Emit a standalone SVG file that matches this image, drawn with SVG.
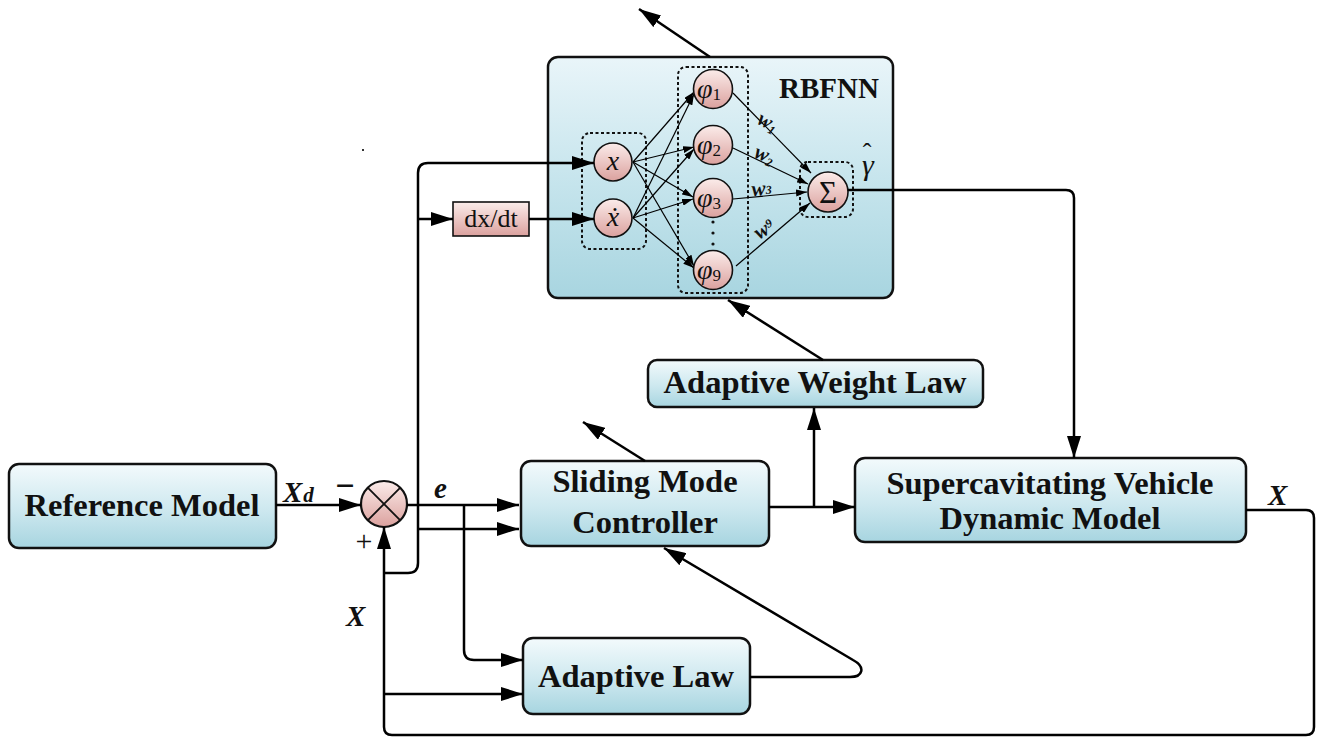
<svg xmlns="http://www.w3.org/2000/svg" width="1321" height="738" viewBox="0 0 1321 738">
  <defs>
    <linearGradient id="boxFill" x1="0" y1="0" x2="0" y2="1">
      <stop offset="0" stop-color="#f3fafc"/>
      <stop offset="0.55" stop-color="#cde8ef"/>
      <stop offset="1" stop-color="#a7d5e0"/>
    </linearGradient>
    <linearGradient id="nnFill" x1="0" y1="0" x2="0" y2="1">
      <stop offset="0" stop-color="#e9f5f9"/>
      <stop offset="0.5" stop-color="#c7e5ed"/>
      <stop offset="1" stop-color="#a8d5e0"/>
    </linearGradient>
    <linearGradient id="pinkFill" x1="0" y1="0" x2="0" y2="1">
      <stop offset="0" stop-color="#fbecea"/>
      <stop offset="1" stop-color="#dba19e"/>
    </linearGradient>
    <marker id="arrow" markerUnits="userSpaceOnUse" markerWidth="22" markerHeight="14" refX="22" refY="7" orient="auto">
      <path d="M0,0 L22,7 L0,14 z" fill="#000"/>
    </marker>
    <marker id="tip" markerUnits="userSpaceOnUse" markerWidth="11" markerHeight="7" refX="11" refY="3.5" orient="auto">
      <path d="M0,0 L11,3.5 L0,7 z" fill="#000"/>
    </marker>
  </defs>
  <style>
    .box { fill: url(#boxFill); stroke: #111; stroke-width: 2.5; }
    .nn { fill: url(#nnFill); stroke: #111; stroke-width: 2.5; }
    .neuron { fill: url(#pinkFill); stroke: #111; stroke-width: 1.6; }
    .group { fill: none; stroke: #111; stroke-width: 2; stroke-dasharray: 3 2.5; }
    .label { font-family: "Liberation Serif", "Times New Roman", serif; font-weight: bold; font-size: 32.5px; fill: #111; text-anchor: middle; }
    .sig { font-family: "Liberation Serif", "Times New Roman", serif; font-weight: bold; font-style: italic; font-size: 29px; fill: #111; }
    .sym { font-family: "Liberation Serif", "Times New Roman", serif; font-style: italic; font-size: 28px; fill: #111; text-anchor: middle; }
    .sub { font-family: "Liberation Serif", "Times New Roman", serif; font-style: normal; font-size: 17px; fill: #111; }
    .wt { font-family: "Liberation Serif", "Times New Roman", serif; font-style: italic; font-weight: bold; font-size: 21px; fill: #111; }
    .wire { fill: none; stroke: #000; stroke-width: 2.5; stroke-linejoin: round; }
    .link { fill: none; stroke: #000; stroke-width: 1.2; }
  </style>

  <rect x="0" y="0" width="1321" height="738" fill="#fff"/>
  <rect x="362" y="149" width="2" height="2" fill="#333"/>

  <!-- RBF neural network block -->
  <g id="rbfnn">
    <rect class="nn" x="548" y="57" width="345" height="241" rx="10"/>
    <text class="label" x="829" y="98" style="font-size:29px">RBFNN</text>
    <rect class="group" x="582" y="133" width="64" height="116" rx="8"/>
    <rect class="group" x="678" y="67" width="70" height="226" rx="8"/>
    <rect class="group" x="800" y="162" width="53" height="55" rx="8"/>

    <g id="rbf-links">
      <path class="link" marker-end="url(#tip)" d="M633,162 L694,92"/>
      <path class="link" marker-end="url(#tip)" d="M633,162 L694,147"/>
      <path class="link" marker-end="url(#tip)" d="M633,162 L693,197"/>
      <path class="link" marker-end="url(#tip)" d="M633,162 L694,266"/>
      <path class="link" marker-end="url(#tip)" d="M633,218 L694,94"/>
      <path class="link" marker-end="url(#tip)" d="M633,218 L694,149"/>
      <path class="link" marker-end="url(#tip)" d="M633,218 L693,199"/>
      <path class="link" marker-end="url(#tip)" d="M633,218 L694,268"/>
      <path class="link" marker-end="url(#tip)" d="M733,93 L811,173"/>
      <path class="link" marker-end="url(#tip)" d="M733,148 L808,184"/>
      <path class="link" marker-end="url(#tip)" d="M733,199 L807,192"/>
      <path class="link" marker-end="url(#tip)" d="M736,266 L810,203"/>
    </g>

    <g id="weights">
      <text class="wt" transform="translate(756,123) rotate(28)">w<tspan style="font-size:12px" dy="3">1</tspan></text>
      <text class="wt" transform="translate(753,157) rotate(22)">w<tspan style="font-size:12px" dy="3">2</tspan></text>
      <text class="wt" transform="translate(752,196) rotate(-4)">w<tspan style="font-size:12px" dy="-1">3</tspan></text>
      <text class="wt" transform="translate(759,240) rotate(-32)">w<tspan style="font-size:12px" dy="-5">9</tspan></text>
    </g>

    <g id="input-x">
      <circle class="neuron" cx="613" cy="162" r="19"/>
      <text class="sym" x="613" y="170">x</text>
    </g>
    <g id="input-xdot">
      <circle class="neuron" cx="613" cy="218" r="19"/>
      <text class="sym" x="613" y="226">ẋ</text>
    </g>
    <g id="phi-1">
      <circle class="neuron" cx="713" cy="89" r="19.5"/>
      <text class="sym" x="709" y="98">φ<tspan class="sub" dy="2">1</tspan></text>
    </g>
    <g id="phi-2">
      <circle class="neuron" cx="713" cy="145" r="19.5"/>
      <text class="sym" x="709" y="154">φ<tspan class="sub" dy="2">2</tspan></text>
    </g>
    <g id="phi-3">
      <circle class="neuron" cx="713" cy="198" r="19.5"/>
      <text class="sym" x="709" y="207">φ<tspan class="sub" dy="2">3</tspan></text>
    </g>
    <g id="phi-ellipsis">
      <circle cx="713" cy="222" r="1.6" fill="#111"/>
      <circle cx="713" cy="233" r="1.6" fill="#111"/>
      <circle cx="713" cy="244" r="1.6" fill="#111"/>
    </g>
    <g id="phi-9">
      <circle class="neuron" cx="713" cy="270" r="19.5"/>
      <text class="sym" x="709" y="279">φ<tspan class="sub" dy="2">9</tspan></text>
    </g>
    <g id="sum-node">
      <circle class="neuron" cx="828" cy="192" r="20"/>
      <text class="sym" x="828" y="203" style="font-style:normal;font-size:31px">Σ</text>
    </g>
    <g id="gamma-hat">
      <text class="sym" x="862" y="175" style="font-size:30px;text-anchor:start">γ<tspan dx="-11" dy="-14" style="font-style:normal;font-size:26px">ˆ</tspan></text>
    </g>
  </g>

  <!-- differentiator -->
  <g id="dxdt">
    <rect x="453" y="202" width="76" height="34" fill="url(#pinkFill)" stroke="#111" stroke-width="1.6"/>
    <text x="491" y="227" font-family="Liberation Serif, serif" font-size="26" text-anchor="middle" fill="#111">dx/dt</text>
  </g>

  <g id="reference-model">
    <rect class="box" x="9" y="464" width="267" height="84" rx="10"/>
    <text class="label" x="142" y="516">Reference Model</text>
  </g>

  <g id="sum-junction">
    <circle class="neuron" cx="384" cy="504" r="23" style="stroke-width:2.2"/>
    <path d="M367.7,487.7 L400.3,520.3 M400.3,487.7 L367.7,520.3" stroke="#111" stroke-width="1.8"/>
  </g>

  <g id="sliding-mode-controller">
    <rect class="box" x="521" y="461" width="248" height="85" rx="10"/>
    <text class="label" x="645" y="492">Sliding Mode</text>
    <text class="label" x="645" y="533">Controller</text>
  </g>

  <g id="adaptive-weight-law">
    <rect class="box" x="648" y="360" width="335" height="47" rx="9"/>
    <text class="label" x="815" y="393">Adaptive Weight Law</text>
  </g>

  <g id="adaptive-law">
    <rect class="box" x="523" y="638" width="227" height="76" rx="10"/>
    <text class="label" x="636" y="687">Adaptive Law</text>
  </g>

  <g id="vehicle-model">
    <rect class="box" x="855" y="458" width="391" height="84" rx="10"/>
    <text class="label" x="1050" y="494">Supercavitating Vehicle</text>
    <text class="label" x="1050" y="529">Dynamic Model</text>
  </g>

  <!-- signal lines -->
  <g id="connectors">
    <path class="wire" marker-end="url(#arrow)" d="M276,505 H361"/>
    <path class="wire" marker-end="url(#arrow)" d="M407,505 H519"/>
    <path class="wire" marker-end="url(#arrow)" d="M418,529 H519"/>
    <path class="wire" marker-end="url(#arrow)" d="M464,505 V650 Q464,660 474,660 H523"/>
    <path class="wire" marker-end="url(#arrow)" d="M384,573 H408 Q418,573 418,563 V173 Q418,163 428,163 H594"/>
    <path class="wire" marker-end="url(#arrow)" d="M418,219 H453"/>
    <path class="wire" marker-end="url(#arrow)" d="M529,219 H594"/>
    <path class="wire" marker-end="url(#arrow)" d="M1246,510 H1306 Q1314,510 1314,518 V727 Q1314,735 1306,735 H392 Q384,735 384,727 V527"/>
    <path class="wire" marker-end="url(#arrow)" d="M384,694 H523"/>
    <path class="wire" marker-end="url(#arrow)" d="M750,677 H850 C863,677 866,667 853,660 L664,548"/>
    <path class="wire" marker-end="url(#arrow)" d="M645,461 L583,422"/>
    <path class="wire" marker-end="url(#arrow)" d="M769,507 H855"/>
    <path class="wire" marker-end="url(#arrow)" d="M814,507 V408"/>
    <path class="wire" marker-end="url(#arrow)" d="M823,360 L728,300"/>
    <path class="wire" marker-end="url(#arrow)" d="M710,57 L639,9"/>
    <path class="wire" marker-end="url(#arrow)" d="M848,190 H1066 Q1074,190 1074,198 V458"/>
  </g>

  <!-- signal labels -->
  <g id="signal-labels">
    <text class="sig" x="283" y="502">X<tspan style="font-size:21px" dx="1">d</tspan></text>
    <text x="345" y="497" font-family="Liberation Serif, serif" font-size="34" font-weight="bold" text-anchor="middle" fill="#111">−</text>
    <text x="364" y="551" font-family="Liberation Serif, serif" font-size="30" text-anchor="middle" fill="#111">+</text>
    <text class="sig" x="434" y="498">e</text>
    <text class="sig" x="346" y="626">X</text>
    <text class="sig" x="1268" y="505">X</text>
  </g>
</svg>
